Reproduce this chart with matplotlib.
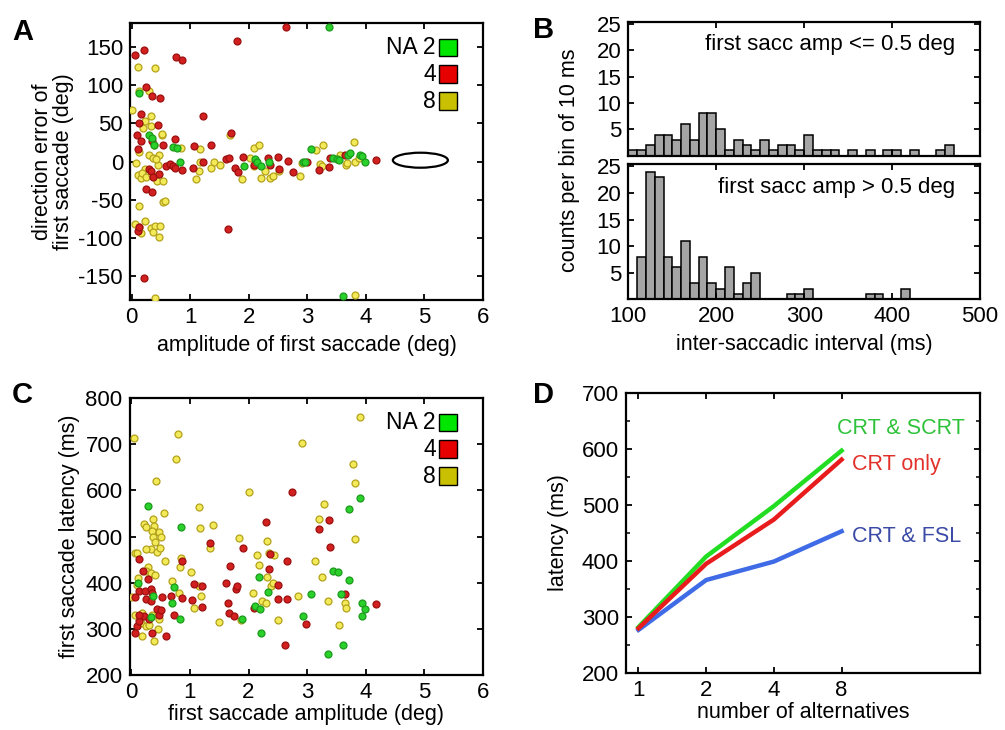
import numpy as np
import matplotlib
matplotlib.use("Agg")
import matplotlib.pyplot as plt
from matplotlib.patches import Rectangle, Ellipse

plt.rcParams['font.family'] = ['Liberation Sans', 'DejaVu Sans']
plt.rcParams['axes.unicode_minus'] = False

# ---- panel A: direction error vs amplitude ----
ga_x = [0.12, 0.30, 0.34, 0.38, 0.71, 0.77, 0.83, 1.92, 2.11, 2.14, 2.20, 2.34, 2.93, 2.96, 3.06, 3.43,
        3.50, 3.54, 3.69, 3.72, 3.90, 3.94, 3.98, 3.37, 3.61]
ga_y = [89, 35, 31, 21, 19, 18, -1, -6, 3, 0, -6, -1, 0, -1, 17, 5, 3, 2, 9, 11, 9, 7, -1, 176, -176]
ra_x = [0.06, 0.20, 0.75, 0.86, 0.25, 0.35, 0.49, 0.16, 1.21, 0.13, 0.44, 0.09, 0.15, 0.34, 0.74, 0.53,
        1.07, 1.36, 0.10, 0.29, 0.32, 0.36, 0.47, 0.24, 0.34, 0.59, 0.65, 0.70, 0.74, 0.86, 1.04, 1.22,
        1.61, 1.69, 1.66, 1.76, 1.82, 1.90, 1.65, 2.09, 2.32, 2.36, 2.50, 2.51, 2.66, 2.76, 3.00, 3.20,
        3.37, 3.38, 3.64, 4.18, 2.64, 1.79, 0.20, 0.10, 0.12]
ra_y = [139, 146, 137, 133, 97, 86, 83, 62, 59, 50, 48, 35, 27, 27, 30, 22, 20, 21, 17, -10, -12, -20,
        -16, -36, -40, -6, -3, -6, -9, -11, -8, -1, 3, 37, 5, -8, -14, 6, -88, -5, 5, -5, 6, -10, 1, -14,
        0, -11, -7, 4, 8, 2, 176, 158, -152, -91, -86]
ya_x = [0.10, 0.39, 0.30, 0.13, 0.01, 0.32, 0.23, 0.19, 0.32, 0.51, 0.38, 0.84, 1.17, 0.12, 0.30, 0.47,
        0.07, 0.37, 0.45, 0.10, 0.16, 0.22, 0.18, 0.24, 0.35, 0.43, 0.54, 0.42, 0.52, 1.15, 1.17, 1.09,
        1.36, 1.40, 1.51, 1.67, 1.89, 2.02, 2.08, 2.17, 2.09, 2.20, 2.28, 2.36, 2.42, 2.52, 2.90, 3.14,
        3.26, 3.21, 3.25, 3.55, 3.66, 3.68, 3.79, 3.82, 3.82, 0.40, 0.12, 0.53, 0.56, 0.05, 0.22, 0.12,
        0.32, 0.40, 0.48, 0.37, 0.46, 0.16, 2.87, 3.88]
ya_y = [123, 122, 92, 92, 67, 60, 53, 44, 46, 35, 22, 18, 16, 13, 9, 9, -2, 4, -4, -17, -21, -10, -15,
        -20, -17, -26, -25, 3, 36, -12, 0, -23, -8, 0, -5, 35, -23, 5, 18, 22, -6, -22, -12, -22, -19,
        -12, -2, 15, 22, -3, -6, 9, -4, -2, 25, 0, -175, -178, -58, -53, -52, -82, -78, -86, -87, -84,
        -84, -92, -99, -93, -19, 5]

# ---- panel B: inter-saccadic interval histograms (10 ms bins from 100 ms) ----
small_counts = [1, 1, 2, 4, 4, 3, 6, 3, 8, 8, 5, 1, 3, 2, 1, 3, 1, 2, 2, 1, 4, 1, 1, 1, 0, 1, 0, 1, 0,
                1, 1, 0, 1, 0, 0, 1, 2]
large_counts = [0, 8, 24, 23, 8, 6, 11, 3, 8, 3, 2, 6, 1, 3, 5, 0, 0, 0, 1, 1, 2, 0, 0, 0, 0, 0, 0, 1,
                1, 0, 0, 2]

# ---- panel C: latency vs amplitude ----
gc_x = [0.29, 0.84, 0.12, 0.37, 0.33, 0.73, 0.69, 0.83, 1.89, 2.11, 2.17, 2.19, 2.21, 2.34, 3.07, 2.93,
        3.35, 3.44, 3.52, 3.57, 3.71, 3.71, 3.90, 3.94, 3.98, 3.94, 3.61]
gc_y = [567, 520, 400, 371, 326, 391, 355, 322, 322, 350, 413, 342, 290, 380, 376, 328, 246, 425, 423,
        376, 406, 559, 583, 357, 342, 328, 266]
rc_x = [0.13, 0.20, 0.29, 0.13, 0.23, 0.33, 0.36, 0.25, 0.33, 0.44, 0.47, 0.36, 0.59, 0.09, 0.07, 0.13,
        0.22, 0.30, 0.13, 0.67, 0.73, 0.86, 0.86, 1.34, 1.03, 1.07, 1.20, 1.20, 1.61, 1.68, 1.65, 1.66,
        1.75, 1.78, 1.81, 1.90, 2.10, 2.30, 2.35, 2.36, 2.50, 2.50, 2.65, 2.65, 2.74, 2.63, 2.98, 3.20,
        3.37, 3.39, 3.64, 4.18, 0.06, 0.53, 0.50]
rc_y = [451, 425, 407, 382, 382, 386, 378, 365, 360, 343, 329, 291, 285, 306, 292, 317, 328, 322, 330,
        371, 331, 447, 367, 487, 362, 398, 393, 348, 399, 436, 357, 335, 328, 387, 393, 475, 346, 532,
        429, 463, 394, 365, 364, 447, 597, 266, 311, 517, 536, 478, 376, 353, 370, 370, 341]
yc_x = [0.05, 0.80, 0.76, 0.42, 1.15, 0.56, 0.21, 0.25, 0.37, 0.39, 0.47, 0.50, 0.35, 0.37, 0.41, 0.33,
        0.25, 0.44, 0.49, 0.06, 0.10, 0.57, 1.17, 1.39, 1.35, 0.84, 0.83, 1.01, 0.12, 0.29, 0.25, 0.33,
        0.40, 0.10, 0.02, 0.70, 0.81, 1.07, 1.19, 1.16, 1.50, 1.84, 2.01, 2.07, 2.15, 2.18, 2.32, 2.35,
        2.44, 2.32, 2.38, 2.42, 2.23, 2.29, 2.51, 1.87, 2.91, 2.85, 3.14, 3.28, 3.21, 3.25, 3.35, 3.79,
        3.82, 3.82, 3.90, 3.64, 3.67, 3.55, 0.19, 0.16, 0.25, 0.31, 0.18, 0.39, 0.46, 0.47, 0.07, 0.35]
yc_y = [714, 721, 667, 621, 565, 552, 527, 520, 538, 523, 510, 500, 512, 498, 488, 474, 472, 467, 475,
        465, 464, 446, 518, 525, 476, 454, 433, 423, 411, 433, 425, 422, 416, 396, 369, 404, 378, 346,
        371, 393, 314, 496, 596, 378, 461, 438, 491, 465, 461, 413, 393, 399, 360, 355, 320, 319, 703,
        372, 447, 570, 538, 413, 360, 657, 616, 494, 759, 357, 346, 309, 335, 313, 306, 309, 285, 273,
        300, 322, 331, 331]

# ---- panel D: latency vs number of alternatives ----
n_alt = [1, 2, 4, 8]
lat_scrt = [282, 408, 498, 597]
lat_crt = [280, 395, 474, 581]
lat_fsl = [277, 366, 399, 453]

FS = 15.5
GREEN_FC, GREEN_EC = '#2bd12b', '#1c9a1c'
RED_FC, RED_EC = '#d21f1f', '#9c1010'
YEL_FC, YEL_EC = '#f3ea5a', '#b3a21a'

fig = plt.figure(figsize=(10.05, 7.3), dpi=100)


def style(ax):
    for s in ax.spines.values():
        s.set_linewidth(1.6)
    ax.tick_params(direction='in', top=True, right=True, length=4, width=1.3,
                   labelsize=16, pad=5)


def scatter_three(ax, gx, gy, rx, ry, yx, yy):
    ax.scatter(yx, yy, s=25, c=YEL_FC, edgecolors=YEL_EC, linewidths=0.9, zorder=3)
    ax.scatter(rx, ry, s=25, c=RED_FC, edgecolors=RED_EC, linewidths=0.9, zorder=3)
    ax.scatter(gx, gy, s=25, c=GREEN_FC, edgecolors=GREEN_EC, linewidths=0.9, zorder=3)


def na_legend(ax):
    w, h = 0.051, 0.064
    rows = [("NA 2", '#00e600', 0.880), ("4", '#e60000', 0.783), ("8", '#c8c000', 0.686)]
    for lab, col, y0 in rows:
        ax.add_patch(Rectangle((0.875, y0), w, h, transform=ax.transAxes, facecolor=col,
                               edgecolor='black', lw=1.0, zorder=5, clip_on=False))
        ax.text(0.866, y0 + h / 2, lab, transform=ax.transAxes, ha='right', va='center',
                fontsize=FS + 1)


# A
axA = fig.add_axes([0.1294, 0.589, 0.3512, 0.3795])
scatter_three(axA, ga_x, ga_y, ra_x, ra_y, ya_x, ya_y)
axA.add_patch(Ellipse((4.93, 1.7), 0.94, 19.6, fill=False, edgecolor='black', lw=1.6))
axA.set_xlim(-0.03, 6)
axA.set_ylim(-181, 181)
axA.set_xticks(range(0, 7))
axA.set_yticks([-150, -100, -50, 0, 50, 100, 150])
style(axA)
axA.set_xlabel("amplitude of first saccade (deg)", fontsize=FS, labelpad=5)
axA.set_ylabel("direction error of\nfirst saccade (deg)", fontsize=FS, labelpad=3,
               linespacing=1.0)
na_legend(axA)

# B
bins_small = np.arange(100, 100 + 10 * len(small_counts), 10)
bins_large = np.arange(100, 100 + 10 * len(large_counts), 10)
axB1 = fig.add_axes([0.6252, 0.7867, 0.35, 0.1836])
axB2 = fig.add_axes([0.6252, 0.590, 0.35, 0.1849])
for ax, bins, counts, txt in [(axB1, bins_small, small_counts, "first sacc amp <= 0.5 deg"),
                              (axB2, bins_large, large_counts, "first sacc amp > 0.5 deg")]:
    b = np.array(bins)
    c = np.array(counts)
    keep = c > 0
    ax.bar(b[keep], c[keep], width=10, align='edge', color='#a5a5a5', edgecolor='black', lw=1.1)
    ax.set_xlim(100, 500)
    ax.set_ylim(0, 25.4)
    ax.set_yticks([5, 10, 15, 20, 25])
    ax.set_xticks([100, 200, 300, 400, 500])
    style(ax)
    ax.text(0.93, 0.83, txt, transform=ax.transAxes, ha='right', va='center', fontsize=16)
axB1.tick_params(labelbottom=False)
axB2.set_xlabel("inter-saccadic interval (ms)", fontsize=FS, labelpad=5)
fig.text(0.567, 0.781, "counts per bin of 10 ms", rotation=90, ha='center', va='center',
         fontsize=FS)

# C
axC = fig.add_axes([0.1289, 0.0753, 0.3517, 0.3795])
scatter_three(axC, gc_x, gc_y, rc_x, rc_y, yc_x, yc_y)
axC.set_xlim(-0.03, 6)
axC.set_ylim(200, 800)
axC.set_xticks(range(0, 7))
axC.set_yticks(range(200, 801, 100))
style(axC)
axC.set_xlabel("first saccade amplitude (deg)", fontsize=FS, labelpad=1)
axC.set_ylabel("first saccade latency (ms)", fontsize=FS, labelpad=4)
na_legend(axC)

# D
axD = fig.add_axes([0.6229, 0.0781, 0.3522, 0.3836])
axD.plot(n_alt, lat_fsl, color='#3f6be6', lw=3.2)
axD.plot(n_alt, lat_scrt, color='#22dd22', lw=3.2)
axD.plot(n_alt, lat_crt, color='#e81c1c', lw=3.2)
axD.set_xscale('log', base=2)
axD.set_xlim(0.88, 33)
axD.set_xticks(n_alt)
axD.set_xticklabels([str(n) for n in n_alt])
axD.xaxis.set_minor_locator(matplotlib.ticker.NullLocator())
axD.set_ylim(200, 700)
axD.set_yticks(range(200, 701, 100))
axD.set_yticks(range(250, 700, 100), minor=True)
style(axD)
axD.tick_params(which='minor', direction='in', right=True, length=3, width=1.1)
axD.set_xlabel("number of alternatives", fontsize=FS, labelpad=1)
axD.set_ylabel("latency (ms)", fontsize=FS, labelpad=9)
axD.text(7.6, 637, "CRT & SCRT", color='#2ec23a', fontsize=FS, va='center')
axD.text(8.9, 572, "CRT only", color='#e2302a', fontsize=FS, va='center')
axD.text(8.9, 444, "CRT & FSL", color='#3a4aa6', fontsize=FS, va='center')

# panel letters
for lab, x, y in [("A", 0.012, 0.975), ("B", 0.530, 0.978), ("C", 0.012, 0.478), ("D", 0.530, 0.478)]:
    fig.text(x, y, lab, fontsize=21, fontweight='bold', ha='left', va='top')

fig.savefig("out.png", dpi=100)
